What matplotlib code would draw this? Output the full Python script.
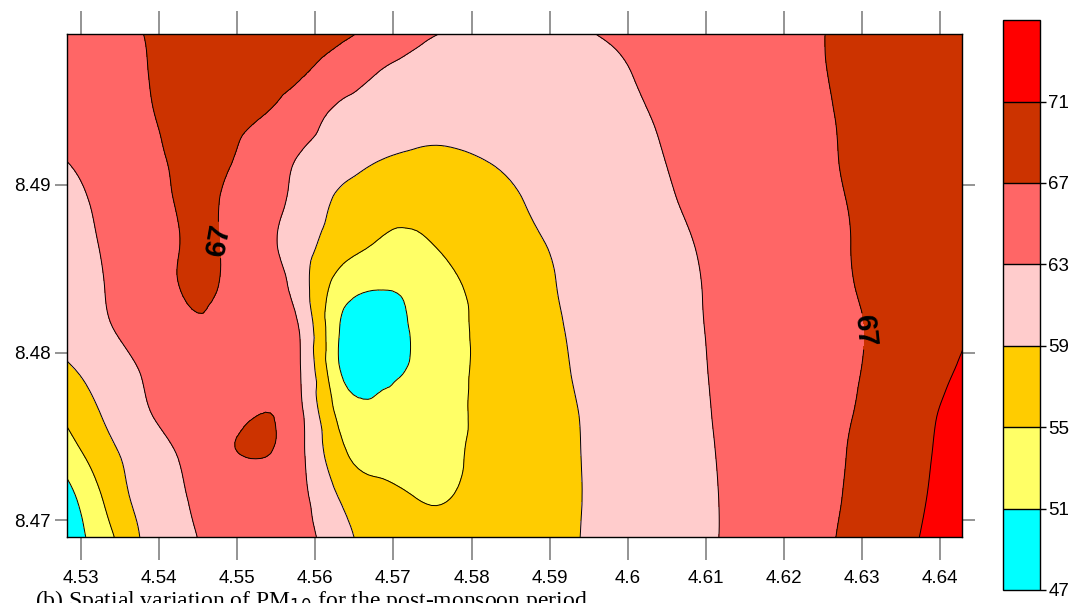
import numpy as np
import matplotlib
matplotlib.use("Agg")
import matplotlib.pyplot as plt
import matplotlib.tri as mtri


# -----------------------------------------------------------
# Data
# -----------------------------------------------------------

lon = [4.528, 4.533, 4.538, 4.543, 4.548, 4.553, 4.558, 4.563,
       4.568, 4.573, 4.578, 4.583, 4.588, 4.593, 4.598, 4.603,
       4.608, 4.613, 4.618, 4.623, 4.628, 4.633, 4.638, 4.643]

lat = [8.4690, 8.4715, 8.4740, 8.4765, 8.4790, 8.4815, 8.4840,
       8.4865, 8.4890, 8.4915, 8.4940, 8.4965, 8.4990]

# PM10 values, one row per latitude (bottom row first)
pm10 = [
    [48.5, 53.5, 59.5, 62.3, 64.2, 64.8, 64.2, 60.5, 57.8, 56.8, 56.6, 57.0,
     57.8, 58.8, 60.1, 61.2, 62.2, 63.3, 64.5, 65.8, 67.5, 69.5, 71.2, 72.7],
    [49.5, 55.5, 60.5, 62.8, 64.8, 65.3, 64.0, 58.8, 56.3, 54.8, 55.1, 56.3,
     57.5, 58.7, 60.1, 61.2, 62.2, 63.3, 64.4, 65.6, 67.2, 69.2, 70.9, 72.5],
    [53.0, 57.5, 61.0, 63.5, 66.3, 67.2, 64.0, 56.2, 53.5, 53.0, 54.5, 56.0,
     57.3, 58.7, 60.2, 61.3, 62.3, 63.4, 64.5, 65.5, 67.0, 69.0, 70.7, 72.3],
    [55.8, 59.5, 62.6, 64.5, 66.0, 66.9, 63.8, 54.0, 52.3, 52.5, 54.3, 56.0,
     57.4, 58.8, 60.3, 61.4, 62.4, 63.5, 64.5, 65.5, 66.7, 68.5, 70.4, 72.0],
    [58.5, 60.8, 63.3, 65.2, 65.8, 64.5, 63.2, 51.3, 49.3, 51.5, 54.2, 56.0,
     57.6, 59.1, 60.5, 61.5, 62.5, 63.6, 64.6, 65.5, 66.5, 68.0, 69.8, 71.3],
    [60.2, 62.5, 64.5, 66.0, 65.8, 64.2, 62.8, 51.2, 49.3, 51.5, 54.3, 56.0,
     57.8, 59.3, 60.6, 61.6, 62.6, 63.7, 64.7, 65.6, 66.5, 67.8, 69.6, 70.8],
    [61.0, 63.0, 65.0, 67.2, 66.8, 65.0, 61.0, 53.5, 51.3, 52.0, 54.6, 56.3,
     58.0, 59.6, 60.8, 61.8, 62.7, 63.8, 64.9, 65.9, 66.8, 68.0, 69.5, 70.6],
    [61.6, 63.3, 65.3, 67.1, 66.9, 64.4, 60.8, 57.0, 54.8, 54.4, 56.0, 56.8,
     58.5, 59.9, 61.0, 62.0, 62.9, 64.0, 65.0, 66.0, 66.9, 68.0, 69.3, 70.3],
    [62.2, 63.6, 65.5, 67.3, 66.9, 64.7, 61.8, 58.4, 56.6, 56.0, 56.3, 57.6,
     59.4, 60.4, 61.4, 62.4, 63.3, 64.3, 65.2, 66.1, 67.0, 68.1, 69.2, 70.1],
    [63.0, 64.2, 66.0, 67.5, 67.4, 65.5, 62.7, 60.6, 59.1, 58.3, 58.3, 59.3,
     60.1, 60.8, 61.8, 62.7, 63.6, 64.5, 65.3, 66.2, 67.2, 68.2, 69.2, 70.0],
    [64.0, 65.0, 66.5, 67.8, 67.8, 67.0, 65.0, 62.0, 61.0, 60.3, 60.1, 60.2,
     60.6, 61.2, 62.0, 63.0, 64.0, 64.8, 65.5, 66.3, 67.3, 68.3, 69.2, 69.8],
    [64.3, 65.3, 66.8, 68.0, 68.4, 68.0, 67.2, 65.0, 62.8, 61.5, 60.5, 60.0,
     60.0, 60.8, 62.2, 63.6, 64.5, 65.2, 65.8, 66.5, 67.5, 68.5, 69.3, 69.8],
    [64.5, 65.5, 67.0, 68.0, 68.5, 68.5, 68.2, 67.8, 65.8, 63.8, 62.5, 61.5,
     61.5, 62.3, 63.5, 64.3, 65.0, 65.5, 66.0, 66.6, 67.5, 68.3, 69.0, 69.5],
]

levels = [47, 51, 55, 59, 63, 67, 71, 75]
colors = ['#00FFFF', '#FFFF66', '#FFCC00', '#FFCCCC',
          '#FF6666', '#CC3300', '#FF0000']

label_level = 67

caption = "(b) Spatial variation of PM$_{10}$ for the post-monsoon period"


# -----------------------------------------------------------
# Grid -> smooth triangulated field
# -----------------------------------------------------------

def build_field():

    gx, gy = np.meshgrid(lon, lat)
    z = np.array(pm10)

    ncol = len(lon)
    nrow = len(lat)

    triangles = []
    for j in range(nrow - 1):
        for i in range(ncol - 1):
            k = j * ncol + i
            triangles.append([k, k + 1, k + ncol])
            triangles.append([k + 1, k + ncol + 1, k + ncol])

    tri = mtri.Triangulation(gx.ravel(), gy.ravel(), triangles)

    refiner = mtri.UniformTriRefiner(tri)
    tri_f, z_f = refiner.refine_field(z.ravel(), subdiv=3)

    return tri_f, z_f


# -----------------------------------------------------------
# Plot
# -----------------------------------------------------------

def main():

    plt.rcParams['font.family'] = ['Liberation Sans', 'DejaVu Sans']

    tri_f, z_f = build_field()

    fig = plt.figure(figsize=(10.75, 6.03), dpi=100)
    ax = fig.add_axes([0.0623, 0.1095, 0.8326, 0.8341])

    cf = ax.tricontourf(tri_f, z_f, levels=levels, colors=colors)

    other = [v for v in levels if v != label_level]
    ax.tricontour(tri_f, z_f, levels=other, colors='k', linewidths=0.7)
    cs67 = ax.tricontour(tri_f, z_f, levels=[label_level], colors='k',
                         linewidths=0.7)

    labels = ax.clabel(cs67, fmt='%d', fontsize=21, inline=True,
                       inline_spacing=2,
                       manual=[(4.5472, 8.4867), (4.6304, 8.4813)])

    # left label reads upward, right label reads downward (as in the map)
    for t in labels:
        t.set_fontweight('bold')
        if t.get_position()[0] < 4.59:
            t.set_rotation(80)
        else:
            t.set_rotation(-84)

    ax.set_xlim(4.5282, 4.6428)
    ax.set_ylim(8.4690, 8.4990)

    ax.set_xticks([4.53, 4.54, 4.55, 4.56, 4.57, 4.58, 4.59,
                   4.60, 4.61, 4.62, 4.63, 4.64])
    ax.set_xticklabels(['4.53', '4.54', '4.55', '4.56', '4.57', '4.58',
                        '4.59', '4.6', '4.61', '4.62', '4.63', '4.64'])
    ax.set_yticks([8.47, 8.48, 8.49])
    ax.set_yticklabels(['8.47', '8.48', '8.49'])

    ax.tick_params(axis='x', top=True, bottom=True, direction='out',
                   length=16.5, width=1.1, color='#777777',
                   labelsize=13.5, pad=7)
    ax.tick_params(axis='y', left=True, right=True, direction='out',
                   length=9, width=1.1, color='#777777',
                   labelsize=13.5, pad=3)

    for sp in ax.spines.values():
        sp.set_linewidth(1.0)

    # colour bar
    cax = fig.add_axes([0.933, 0.0216, 0.0344, 0.945])
    cb = fig.colorbar(cf, cax=cax, ticks=levels[:-1], drawedges=True)
    cb.outline.set_linewidth(1.0)
    cb.dividers.set_linewidth(1.0)
    cax.tick_params(length=4, width=1, labelsize=13.5, pad=2)
    cax.set_yticklabels([str(v) for v in levels[:-1]])

    fig.text(0.033, 0.025, caption, family='Liberation Serif',
             fontsize=17, va='top', ha='left')

    fig.savefig("out.png", dpi=100)


if __name__ == "__main__":
    main()
